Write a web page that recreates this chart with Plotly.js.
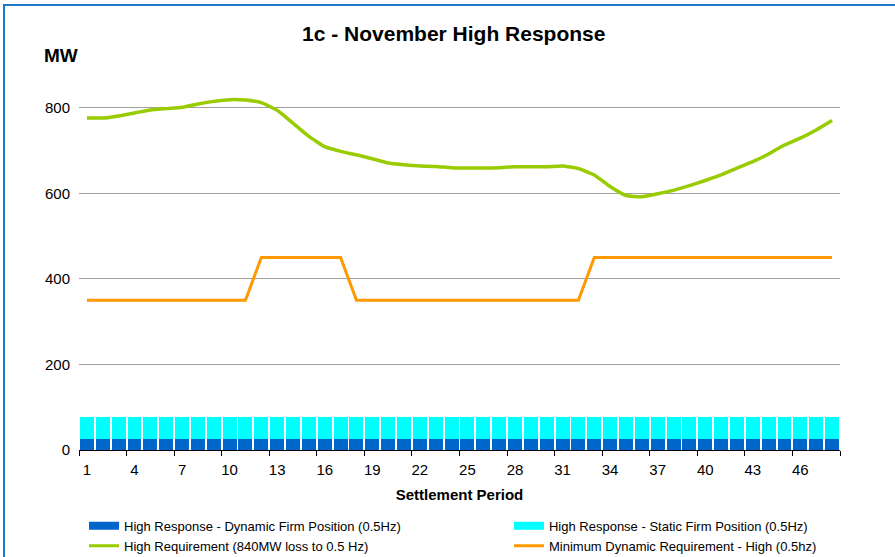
<!DOCTYPE html>
<html>
<head>
<meta charset="utf-8">
<script src="https://cdn.plot.ly/plotly-3.0.1.min.js"></script>
<style>
html,body{margin:0;padding:0;background:#fff;}
#wrap{position:relative;width:895px;height:557px;}
#chart{width:895px;height:557px;}
#frame{position:absolute;left:3px;top:4px;width:900px;height:600px;border-top:2px solid #1f78c8;border-left:2px solid #1f78c8;pointer-events:none;}
</style>
</head>
<body>
<div id="wrap"><div id="chart"></div><div id="frame"></div></div>
<script>
const periods = [1,2,3,4,5,6,7,8,9,10,11,12,13,14,15,16,17,18,19,20,21,22,23,24,25,26,27,28,29,30,31,32,33,34,35,36,37,38,39,40,41,42,43,44,45,46,47,48];
const tickLabels = ["1","4","7","10","13","16","19","22","25","28","31","34","37","40","43","46"];
const tickPositions = [1,4,7,10,13,16,19,22,25,28,31,34,37,40,43,46];

const dynamicFirm = [25,25,25,25,25,25,25,25,25,25,25,25,25,25,25,25,25,25,25,25,25,25,25,25,25,25,25,25,25,25,25,25,25,25,25,25,25,25,25,25,25,25,25,25,25,25,25,25];
const staticFirm = [51,51,51,51,51,51,51,51,51,51,51,51,51,51,51,51,51,51,51,51,51,51,51,51,51,51,51,51,51,51,51,51,51,51,51,51,51,51,51,51,51,51,51,51,51,51,51,51];
const highRequirement = [776,776,781,788,795,798,801,809,815,819,818,812,794,764,733,709,698,690,681,671,667,664,663,660,659,659,660,662,662,662,664,658,643,616,595,592,599,607,618,630,643,659,674,692,713,729,748,770];
const minDynamic = [350,350,350,350,350,350,350,350,350,350,350,450,450,450,450,450,450,350,350,350,350,350,350,350,350,350,350,350,350,350,350,350,450,450,450,450,450,450,450,450,450,450,450,450,450,450,450,450];

const seriesNames = ['High Response - Dynamic Firm Position (0.5Hz)','High Response - Static Firm Position (0.5Hz)',
  'High Requirement (840MW loss to 0.5 Hz)','Minimum Dynamic Requirement - High (0.5hz)'];
const colors = ['#0066cc','#00ffff','#99cc00','#ff9900'];

const font = "Liberation Sans, Arial, sans-serif";

const traces = [
  {type:'bar', name:seriesNames[0], x:periods, y:dynamicFirm, marker:{color:colors[0]}, showlegend:false},
  {type:'bar', name:seriesNames[1], x:periods, y:staticFirm, marker:{color:colors[1]}, showlegend:false},
  {type:'scatter', mode:'lines', name:seriesNames[2], x:periods, y:highRequirement,
   line:{color:colors[2], width:3.5, shape:'spline', smoothing:0.4}, showlegend:false},
  {type:'scatter', mode:'lines', name:seriesNames[3], x:periods, y:minDynamic,
   line:{color:colors[3], width:3}, showlegend:false},
  // legend-only entries (no data drawn)
  {type:'scatter', mode:'lines', name:seriesNames[0], x:[null], y:[null], line:{color:colors[0], width:8}, legend:'legend'},
  {type:'scatter', mode:'lines', name:seriesNames[2], x:[null], y:[null], line:{color:colors[2], width:3}, legend:'legend'},
  {type:'scatter', mode:'lines', name:seriesNames[1], x:[null], y:[null], line:{color:colors[1], width:8}, legend:'legend2'},
  {type:'scatter', mode:'lines', name:seriesNames[3], x:[null], y:[null], line:{color:colors[3], width:3}, legend:'legend2'}
];

const legendCommon = {orientation:'v', yanchor:'top', y:-0.158, xanchor:'left', traceorder:'normal',
  font:{family:font, size:13, color:'#000'}, itemwidth:30, tracegroupgap:0, bgcolor:'rgba(0,0,0,0)'};

const layout = {
  width:895, height:557,
  margin:{l:79, r:55, t:65, b:107, autoexpand:false},
  paper_bgcolor:'#ffffff', plot_bgcolor:'#ffffff',
  barmode:'stack', bargap:0.12,
  font:{family:font, color:'#000'},
  title:{text:'<b>1c - November High Response</b>', x:0.507, xanchor:'center', y:0.94, yanchor:'middle',
         font:{family:font, size:21, color:'#000'}},
  xaxis:{
    type:'linear', range:[0.5,48.5], tickmode:'array', tickvals:tickPositions, ticktext:tickLabels,
    ticks:'', showgrid:false, zeroline:false, showline:true, linecolor:'#000', linewidth:1,
    tickfont:{size:15, color:'#000'}, ticklabelstandoff:6,
    minor:{tickmode:'linear', tick0:0.5, dtick:3, ticks:'outside', ticklen:5, tickcolor:'#000', tickwidth:1, showgrid:false},
    title:{text:'<b>Settlement Period</b>', font:{size:15, color:'#000'}, standoff:12}
  },
  yaxis:{
    range:[0,900], tickmode:'array', tickvals:[0,200,400,600,800], ticks:'', showgrid:true,
    gridcolor:'#a0a0a0', gridwidth:1, zeroline:false, showline:false,
    tickfont:{size:15, color:'#000'}, ticklabelstandoff:8
  },
  annotations:[{text:'<b>MW</b>', xref:'paper', yref:'paper', x:-0.048, y:1.025, xanchor:'left', yanchor:'middle',
    showarrow:false, font:{family:font, size:19, color:'#000'}}],
  legend:Object.assign({}, legendCommon, {x:0.0066}),
  legend2:Object.assign({}, legendCommon, {x:0.565}),
  showlegend:true
};

Plotly.newPlot('chart', traces, layout, {displayModeBar:false, staticPlot:true});
</script>
</body>
</html>
